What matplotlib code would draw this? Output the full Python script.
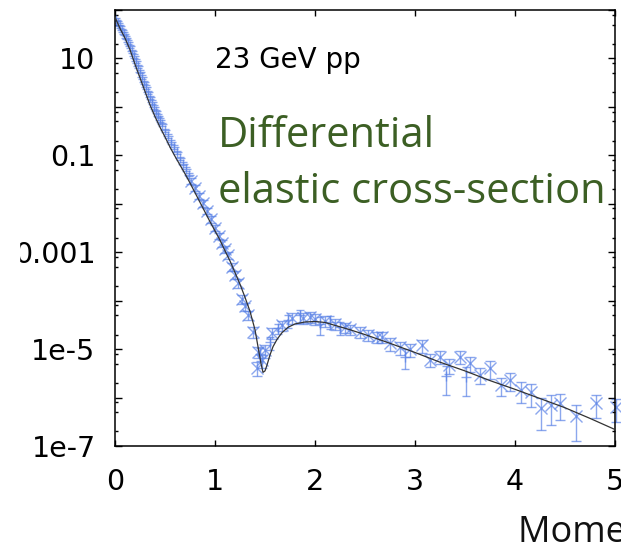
import numpy as np
import matplotlib
matplotlib.use('Agg')
import matplotlib.pyplot as plt
from matplotlib.patches import Rectangle
from matplotlib.ticker import FixedLocator, NullFormatter

# model curve: t and log10(dsigma/dt)
model_t = [0.00, 0.05, 0.10, 0.15, 0.20, 0.25, 0.30, 0.35, 0.40, 0.45,
           0.50, 0.55, 0.60, 0.65, 0.70, 0.75, 0.80, 0.85, 0.90, 0.95,
           1.00, 1.05, 1.10, 1.15, 1.20, 1.25, 1.30, 1.35, 1.40, 1.43,
           1.46, 1.48, 1.50, 1.52, 1.55, 1.58, 1.62, 1.67, 1.73, 1.80,
           1.90, 2.00, 2.10, 2.20, 2.35, 2.50, 2.75, 3.00, 3.25, 3.50,
           3.75, 4.00, 4.25, 4.50, 4.75, 5.00]
model_log = [1.85, 1.62, 1.42, 1.18, 0.88, 0.60, 0.32, 0.04, -0.20, -0.42,
             -0.62, -0.83, -1.02, -1.20, -1.38, -1.57, -1.77, -1.97, -2.17, -2.37,
             -2.56, -2.75, -2.97, -3.18, -3.42, -3.66, -3.93, -4.22, -4.60, -4.95,
             -5.30, -5.48, -5.45, -5.33, -5.12, -4.95, -4.80, -4.66, -4.55, -4.48,
             -4.44, -4.43, -4.45, -4.51, -4.60, -4.70, -4.88, -5.07, -5.27, -5.45,
             -5.65, -5.83, -6.02, -6.21, -6.43, -6.66]

# data set drawn with + markers
a_t = [0.01, 0.03, 0.05, 0.07, 0.09, 0.11, 0.13, 0.15, 0.17, 0.19,
       0.21, 0.23, 0.25, 0.27, 0.29, 0.31, 0.33, 0.35, 0.37, 0.39,
       0.41, 0.43, 0.45, 0.47, 0.50, 0.53, 0.56, 0.59, 0.62, 0.65,
       0.68, 0.71, 0.74, 1.45, 1.55, 1.63, 1.73, 1.85, 2.05, 2.15,
       2.25, 2.90, 3.31, 3.51]
a_log = [1.80, 1.73, 1.66, 1.58, 1.51, 1.43, 1.34, 1.25, 1.15, 1.05,
         0.95, 0.84, 0.73, 0.62, 0.51, 0.41, 0.30, 0.20, 0.10, 0.00,
         -0.09, -0.18, -0.27, -0.36, -0.48, -0.60, -0.72, -0.83, -0.94, -1.06,
         -1.17, -1.28, -1.40, -5.10, -4.86, -4.57, -4.40, -4.30, -4.48, -4.44,
         -4.55, -5.16, -5.55, -5.58]
a_rel = [0.08] * 33 + [0.3, 0.3, 0.25, 0.3, 0.3, 0.4, 0.3, 0.3, 0.45, 0.6, 0.6]

# data set drawn with x markers
b_t = [0.76, 0.80, 0.84, 0.88, 0.92, 0.96, 1.00, 1.04, 1.07, 1.10,
       1.13, 1.17, 1.20, 1.23, 1.27, 1.30, 1.33, 1.38, 1.43, 1.42,
       1.47, 1.50, 1.57, 1.67, 1.77, 1.88, 1.95, 2.00, 2.10, 2.20,
       2.30, 2.35, 2.45, 2.53, 2.62, 2.67, 2.75, 2.85, 2.95, 3.07,
       3.15, 3.25, 3.34, 3.45, 3.55, 3.65, 3.75, 3.86, 3.95, 4.06,
       4.16, 4.26, 4.36, 4.45, 4.61, 4.81, 5.01]
b_log = [-1.52, -1.67, -1.83, -1.99, -2.15, -2.32, -2.49, -2.66, -2.81, -2.94,
         -3.06, -3.30, -3.46, -3.64, -3.97, -4.12, -4.30, -4.65, -5.06, -5.39,
         -5.23, -5.02, -4.67, -4.51, -4.36, -4.36, -4.34, -4.38, -4.42, -4.48,
         -4.55, -4.59, -4.65, -4.71, -4.75, -4.75, -4.88, -4.96, -5.00, -4.92,
         -5.22, -5.16, -5.33, -5.16, -5.29, -5.53, -5.40, -5.74, -5.64, -5.85,
         -5.89, -6.22, -6.16, -6.12, -6.38, -6.12, -6.20]
b_rel = [0.15, 0.15, 0.15, 0.15, 0.15, 0.15, 0.15, 0.15, 0.18, 0.18,
         0.18, 0.2, 0.2, 0.2, 0.2, 0.2, 0.2, 0.25, 0.25, 0.3,
         0.3, 0.3, 0.25, 0.25, 0.25, 0.25, 0.25, 0.25, 0.25, 0.25,
         0.25, 0.25, 0.25, 0.25, 0.25, 0.25, 0.3, 0.3, 0.3, 0.3,
         0.3, 0.3, 0.35, 0.3, 0.35, 0.35, 0.4, 0.4, 0.4, 0.45,
         0.5, 0.65, 0.6, 0.55, 0.7, 0.5, 0.5]

y_labels = {1: '10', -1: '0.1', -3: '0.001', -5: '1e-5', -7: '1e-7'}

blue = '#5a82e6'
green = '#3c5f24'
W, H = 621, 549

fig = plt.figure(figsize=(W / 100, H / 100), dpi=100)
ax = fig.add_axes([115 / W, 103 / H, 500 / W, 436 / H])
ax.set_yscale('log')

ya = 10.0 ** np.array(a_log)
yb = 10.0 ** np.array(b_log)
eb1 = ax.errorbar(a_t, ya, yerr=ya * np.array(a_rel), fmt='+', color=blue, alpha=0.7,
                  ms=6.5, mew=1.0, elinewidth=1.0, capsize=2.8, capthick=1.0)
eb2 = ax.errorbar(b_t, yb, yerr=yb * np.array(b_rel), fmt='x', color=blue, alpha=0.7,
                  ms=8, mew=1.0, elinewidth=1.0, capsize=3.5, capthick=1.0)
# gnuplot does not clip the points at the frame
eb2[0].set_clip_on(False)
for a in eb2[1]:
    a.set_clip_on(False)
for a in eb2[2]:
    a.set_clip_on(False)

ax.plot(model_t, 10.0 ** np.array(model_log), color='#333333', lw=0.9, zorder=5)

ax.set_xlim(0, 5)
ax.set_ylim(1e-7, 1e2)

dec = list(range(-7, 3))
ax.yaxis.set_major_locator(FixedLocator([10.0 ** d for d in dec]))
ax.set_yticklabels([y_labels.get(d, '') for d in dec])
minors = [m * 10.0 ** d for d in range(-8, 2) for m in (2, 5, 8)]
ax.yaxis.set_minor_locator(FixedLocator(minors))
ax.yaxis.set_minor_formatter(NullFormatter())
ax.set_xticks([0, 1, 2, 3, 4, 5])
ax.set_xticklabels(['0', '1', '2', '3', '4', '5'])

ax.tick_params(axis='both', which='both', direction='in', top=True, right=True,
               width=1.0, color='black')
ax.tick_params(axis='y', which='major', length=5, pad=14)
ax.tick_params(axis='y', which='minor', length=2.5)
ax.tick_params(axis='x', which='major', length=4.5, pad=16)
for lab in ax.get_xticklabels() + ax.get_yticklabels():
    lab.set_fontfamily('DejaVu Sans')
    lab.set_fontsize(20.5)
for s in ax.spines.values():
    s.set_linewidth(1.1)

fig.text(215 / W, 1 - 68 / H, '23 GeV pp', fontsize=20, family='DejaVu Sans',
         va='baseline', ha='left')
fig.text(218 / W, 1 - 147 / H, 'Differential', fontsize=30, family='Open Sans',
         color=green, va='baseline', ha='left')
fig.text(218 / W, 1 - 203 / H, 'elastic cross-section', fontsize=30, family='Open Sans',
         color=green, va='baseline', ha='left')
fig.text(518 / W, 1 - 542 / H, 'Momentum transfer', fontsize=26, family='Open Sans',
         color='#111111', va='baseline', ha='left')

# the left edge of the source is cut off
fig.add_artist(Rectangle((0, 0), 19 / W, 1, transform=fig.transFigure,
                         color='white', zorder=20))

fig.savefig('out.png', dpi=100)
